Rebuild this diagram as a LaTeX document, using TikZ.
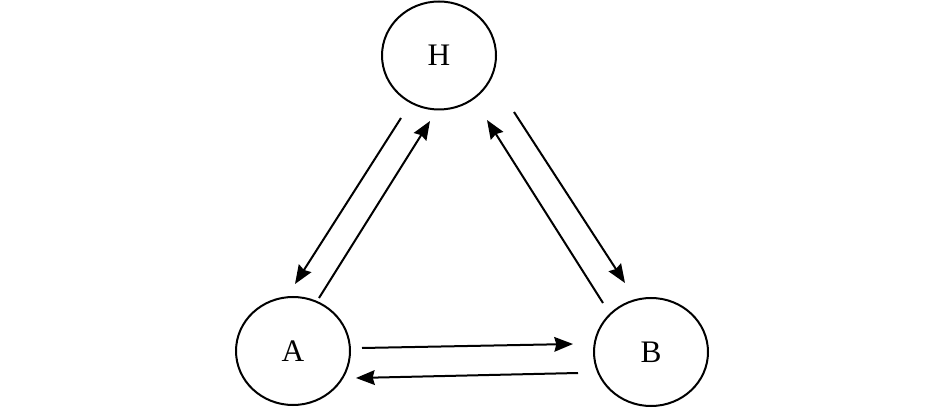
\documentclass[tikz,border=0pt]{standalone}
\usepackage{fontspec}
\setmainfont{Liberation Serif}
\usetikzlibrary{arrows.meta,shapes.geometric}
\begin{document}
\begin{tikzpicture}[x=0.75pt,y=-0.75pt,
  state/.style={draw,line width=1.5pt,ellipse,inner sep=0pt,minimum width=114*0.75pt,minimum height=108*0.75pt,font=\fontsize{23.5}{26}\selectfont},
  conn/.style={line width=1.5pt,-{Stealth[length=14pt,width=11pt,inset=1.5pt]}}]
\useasboundingbox (0,0) rectangle (945,409);
\node[state] (H) at (439,55.5) {H};
\node[state] (A) at (293,351) {A};
\node[state] (B) at (651,352) {B};
% connector end points
\coordinate (ha1) at (401,118);
\coordinate (ha2) at (295,284);
\coordinate (ah1) at (319,298);
\coordinate (ah2) at (430,121);
\coordinate (hb1) at (514,112);
\coordinate (hb2) at (625,283);
\coordinate (bh1) at (603,303);
\coordinate (bh2) at (487,120);
\coordinate (ab1) at (362,348);
\coordinate (ab2) at (573,344);
\coordinate (ba1) at (578,373);
\coordinate (ba2) at (356,378);
\draw[conn] (ha1) -- (ha2);
\draw[conn] (ah1) -- (ah2);
\draw[conn] (hb1) -- (hb2);
\draw[conn] (bh1) -- (bh2);
\draw[conn] (ab1) -- (ab2);
\draw[conn] (ba1) -- (ba2);
\end{tikzpicture}
\end{document}
